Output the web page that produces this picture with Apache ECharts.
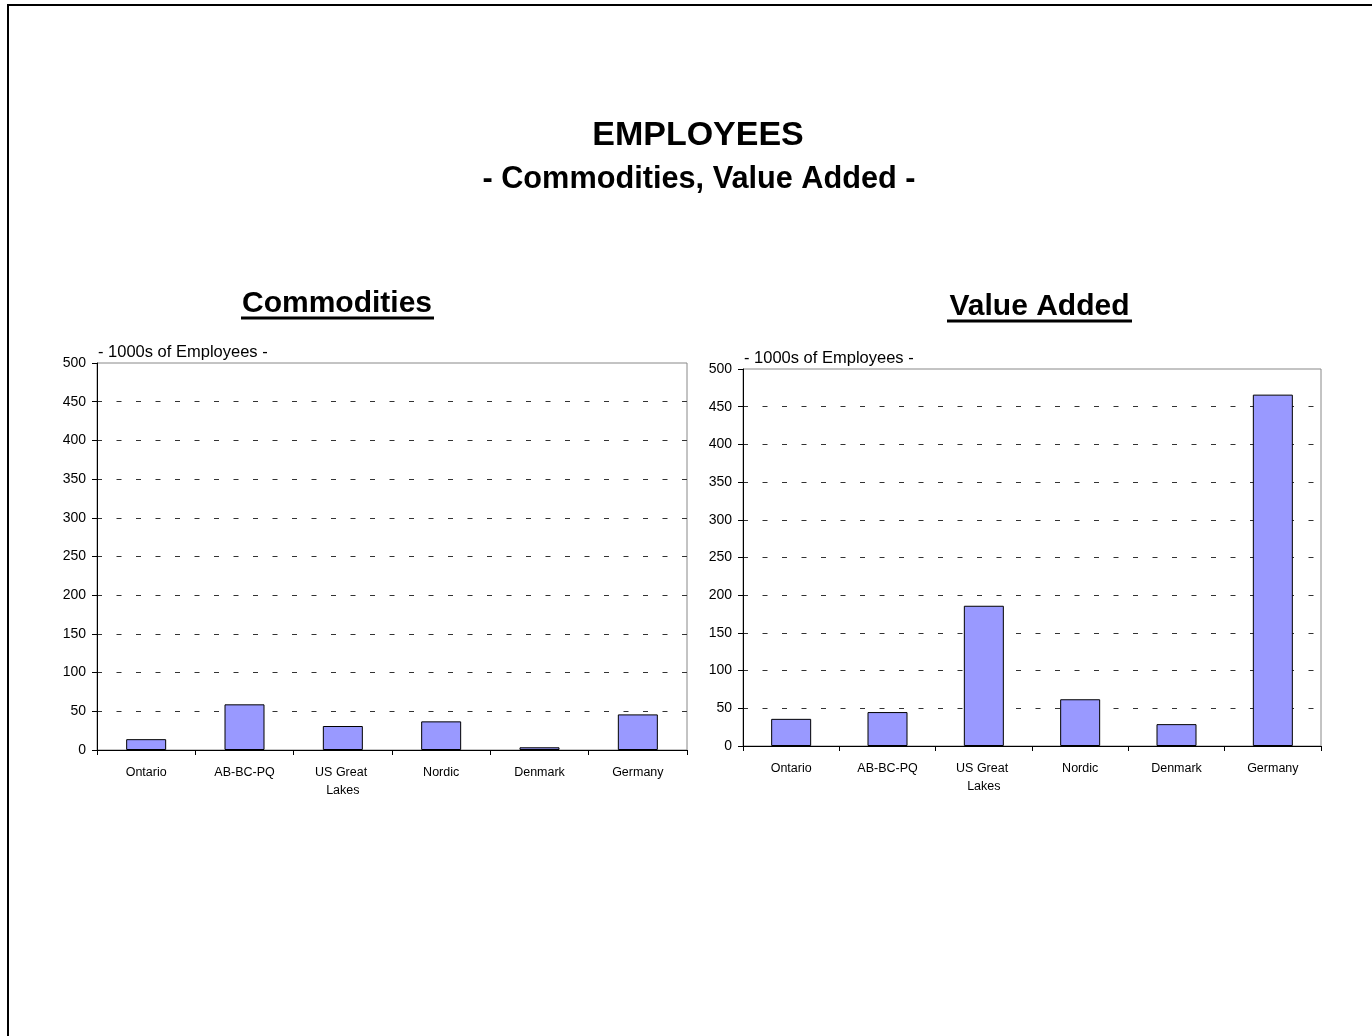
<!DOCTYPE html>
<html>
<head>
<meta charset="utf-8">
<title>Employees - Commodities, Value Added</title>
<script src="https://cdn.jsdelivr.net/npm/echarts@6/dist/echarts.min.js"></script>
<style>
  html, body { margin: 0; padding: 0; background: #fff; }
  #chart { width: 1372px; height: 1036px; }
</style>
</head>
<body>
<div id="chart"></div>
<script>
// Regions shown on both panels
const regions = ['Ontario', 'AB-BC-PQ', 'US Great Lakes', 'Nordic', 'Denmark', 'Germany'];

// Employees (thousands) per region
const commoditiesEmployees = [14, 59, 31, 37, 3.5, 46];
const valueAddedEmployees = [36, 45, 186, 62, 29, 466];

// Value axis range and step
const axisMin = 0;
const axisMax = 500;
const axisStep = 50;

const axisName = '- 1000s of Employees -';
const FONT = '"Liberation Sans", Arial, sans-serif';

const chart = echarts.init(document.getElementById('chart'), null, { renderer: 'canvas' });

function makeXAxis(gridIndex) {
  return {
    type: 'category',
    gridIndex: gridIndex,
    data: regions,
    axisLine: { show: true, lineStyle: { color: '#000', width: 1 } },
    axisTick: { show: true, length: 5, lineStyle: { color: '#000' } },
    axisLabel: {
      color: '#000', fontFamily: FONT, fontSize: 12.5, margin: 14,
      interval: 0, width: 80, overflow: 'break', lineHeight: 18
    },
    splitLine: { show: false }
  };
}

function makeYAxis(gridIndex) {
  return {
    type: 'value',
    gridIndex: gridIndex,
    min: axisMin, max: axisMax, interval: axisStep,
    name: axisName,
    nameLocation: 'end',
    nameGap: 2,
    nameTextStyle: {
      color: '#000', fontFamily: FONT, fontSize: 16.5,
      align: 'left', verticalAlign: 'bottom', padding: [0, 0, 0, 1]
    },
    axisLine: { show: true, lineStyle: { color: '#000', width: 1 } },
    axisTick: { show: true, length: 5, lineStyle: { color: '#000' } },
    axisLabel: { color: '#000', fontFamily: FONT, fontSize: 14, margin: 11 },
    splitLine: {
      show: true,
      showMaxLine: false,
      lineStyle: { color: '#333', width: 1, type: [5, 14.5], dashOffset: 0 }
    }
  };
}

function makeBars(index, values) {
  return {
    type: 'bar',
    xAxisIndex: index,
    yAxisIndex: index,
    data: values,
    barWidth: 40,
    itemStyle: { color: '#9999FF', borderColor: '#000', borderWidth: 1 },
    silent: true
  };
}

function titleText(text, x, y, size) {
  return {
    type: 'text', x: x, y: y, silent: true,
    style: {
      text: text, fill: '#000', align: 'center', verticalAlign: 'middle',
      font: 'bold ' + size + 'px ' + FONT
    }
  };
}

function underline(x1, x2, y) {
  return {
    type: 'line', silent: true,
    shape: { x1: x1, y1: y, x2: x2, y2: y },
    style: { stroke: '#000', lineWidth: 3 }
  };
}

const option = {
  animation: false,
  backgroundColor: '#fff',
  grid: [
    { left: 97, top: 363, width: 590, height: 387, show: true, borderColor: '#888', borderWidth: 1, backgroundColor: 'transparent' },
    { left: 743, top: 369, width: 578, height: 377, show: true, borderColor: '#888', borderWidth: 1, backgroundColor: 'transparent' }
  ],
  xAxis: [makeXAxis(0), makeXAxis(1)],
  yAxis: [makeYAxis(0), makeYAxis(1)],
  series: [makeBars(0, commoditiesEmployees), makeBars(1, valueAddedEmployees)],
  graphic: [
    // page frame (left and top edges)
    {
      type: 'polyline', silent: true,
      shape: { points: [[8, 1040], [8, 5], [1376, 5]] },
      style: { stroke: '#000', lineWidth: 2, fill: null }
    },
    titleText('EMPLOYEES', 698, 136, 34),
    titleText('- Commodities, Value Added -', 699, 180, 30.7),
    titleText('Commodities', 337, 304, 30),
    underline(241, 434, 318),
    titleText('Value Added', 1039.5, 307, 30),
    underline(947, 1132, 321)
  ]
};

chart.setOption(option);
</script>
</body>
</html>
